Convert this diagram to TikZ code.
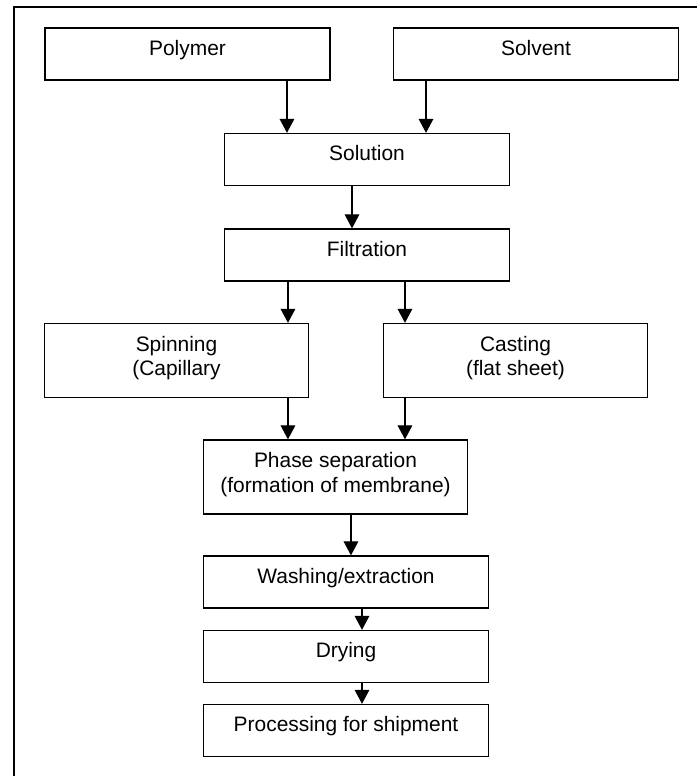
\documentclass[tikz,border=0pt]{standalone}
\usepackage{fontspec}
\setmainfont{Liberation Sans}
\usetikzlibrary{arrows.meta,shapes}
\tikzstyle{block}=[draw,rectangle,line width=1pt,minimum width=213.75pt,minimum height=39pt,inner sep=0pt,align=center,font=\fontsize{15.7}{18.2}\selectfont,text height=11.5pt,text depth=9.5pt]
\tikzstyle{narrow}=[minimum width=198pt]
\tikzstyle{tall}=[minimum height=55.5pt,text height=30pt,text depth=7.5pt]
\tikzstyle{edge} = [draw,line width=0.9pt,-{Triangle[length=10.5pt,width=11pt]}]
\tikzstyle{frame} = [draw,line width=1.5pt]

\begin{document}
\begin{tikzpicture}[x=0.75pt,y=-0.75pt]
        \useasboundingbox (0,0) rectangle (697,776);
        % page frame, cut off at right and bottom
        \draw[frame] (13.5,800) |- (720,6.5);
        \node[block] (polymer) at (187.5,54) {Polymer};
        \node[block] (solvent) at (536,54) {Solvent};
        \node[block] (solution) at (367,159.5) {Solution};
        \node[block] (filtration) at (367,255) {Filtration};
        \node[block,narrow,tall] (spinning) at (176.5,360.5) {Spinning\\(Capillary};
        \node[block,narrow,tall] (casting) at (515.5,360.5) {Casting\\(flat sheet)};
        \node[block,narrow,tall] (phase) at (335.5,477) {Phase separation\\(formation of membrane)};
        \node[block] (washing) at (346,582) {Washing/extraction};
        \node[block] (drying) at (346,656.5) {Drying};
        \node[block] (shipment) at (346,730.5) {Processing for shipment};
        \draw[edge] ([xshift=74.6pt]polymer.south) -- ([xshift=74.6pt]polymer.south |- solution.north);
        \draw[edge] ([xshift=-82.5pt]solvent.south) -- ([xshift=-82.5pt]solvent.south |- solution.north);
        \draw[edge] ([xshift=-11.25pt]solution.south) -- ([xshift=-11.25pt]solution.south |- filtration.north);
        \draw[edge] ([xshift=83.6pt]spinning.north |- filtration.south) -- ([xshift=83.6pt]spinning.north);
        \draw[edge] ([xshift=-82.9pt]casting.north |- filtration.south) -- ([xshift=-82.9pt]casting.north);
        \draw[edge] ([xshift=83.6pt]spinning.south) -- ([xshift=83.6pt]spinning.south |- phase.north);
        \draw[edge] ([xshift=-82.9pt]casting.south) -- ([xshift=-82.9pt]casting.south |- phase.north);
        \draw[edge] ([xshift=11.6pt]phase.south) -- ([xshift=11.6pt]phase.south |- washing.north);
        \draw[edge] ([xshift=12pt]washing.south) -- ([xshift=12pt]washing.south |- drying.north);
        \draw[edge] ([xshift=12pt]drying.south) -- ([xshift=12pt]drying.south |- shipment.north);
      \end{tikzpicture}
\end{document}
